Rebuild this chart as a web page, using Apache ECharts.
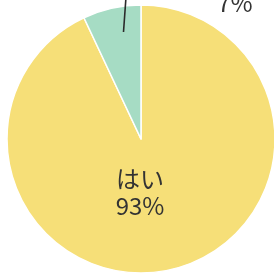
<!DOCTYPE html>
<html>
<head>
<meta charset="utf-8">
<script src="https://cdn.jsdelivr.net/npm/echarts@6/dist/echarts.min.js"></script>
<style>
  html, body { margin: 0; padding: 0; background: #fff; }
  #chart { width: 274px; height: 276px; }
</style>
</head>
<body>
<div id="chart"></div>
<script>
// answers and their share (%)
const categories = ['はい', 'いいえ'];
const values = [93, 7];
const colors = ['#f6df78', '#a6dcc4'];

const myChart = echarts.init(document.getElementById('chart'));

const center = [141, 139];
const radius = [0, 134];
const textStyle = {
    fontFamily: 'Noto Sans CJK JP',
    fontSize: 24,
    lineHeight: 27,
    color: '#333',
    align: 'center'
};

const option = {
    backgroundColor: '#fff',
    animation: false,
    series: [{
        // the slices
        type: 'pie',
        center: center,
        radius: radius,
        startAngle: 90,
        itemStyle: { borderColor: '#fff', borderWidth: 1.5 },
        label: Object.assign({
            formatter: function (p) {
                return p.dataIndex === 0 ? p.name + '\n' + p.value + '%' : '';
            }
        }, textStyle),
        labelLine: { show: false },
        labelLayout: function (p) {
            return { x: 140, y: 192, align: 'center', verticalAlign: 'middle' };
        },
        data: categories.map(function (c, i) {
            return { name: c, value: values[i], itemStyle: { color: colors[i] } };
        })
    }, {
        // same slices, transparent, only carries the small label and its leader line on top
        type: 'pie',
        z: 5,
        silent: true,
        center: center,
        radius: radius,
        startAngle: 90,
        itemStyle: { color: 'rgba(0,0,0,0)' },
        label: Object.assign({
            formatter: function (p) {
                return p.dataIndex === 1 ? p.value + '%' : '';
            }
        }, textStyle),
        labelLine: { lineStyle: { color: '#2b2b2b', width: 1.6 } },
        labelLayout: function (p) {
            return {
                x: 235, y: 3, align: 'center', verticalAlign: 'middle',
                labelLinePoints: [[123.5, 32], [126, -3], [215, -3]]
            };
        },
        data: categories.map(function (c, i) {
            return { name: c, value: values[i], labelLine: { show: i === 1 } };
        })
    }]
};
myChart.setOption(option);
</script>
</body>
</html>
